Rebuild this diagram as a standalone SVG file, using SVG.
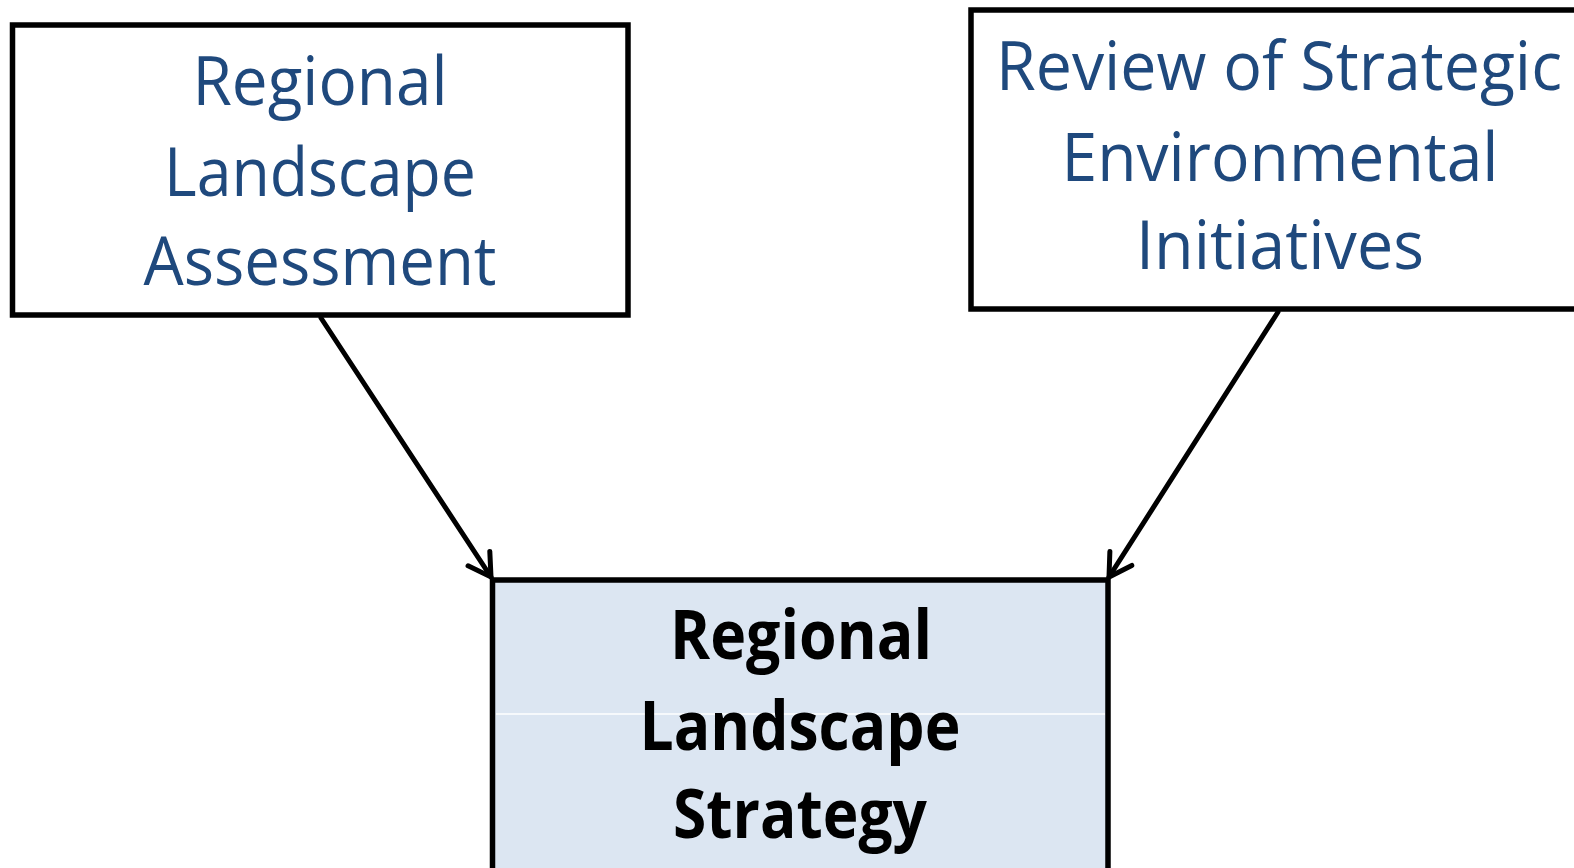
<svg xmlns="http://www.w3.org/2000/svg" width="1574" height="868" viewBox="0 0 1574 868">
<style>
.box{fill:#ffffff;stroke:#000;stroke-width:5.5}
.main{fill:#DCE6F2;stroke:#000;stroke-width:5.5}
.t{font-family:"Open Sans","Noto Sans","Liberation Sans",sans-serif;font-size:68px;fill:#1F497D;text-anchor:middle}
.b{font-family:"Open Sans","Noto Sans","Liberation Sans",sans-serif;font-size:68px;font-weight:bold;fill:#000;text-anchor:middle}
.c{stroke:#000;stroke-width:5;fill:none;stroke-linecap:round}
</style>
<defs>
<marker id="ah" markerUnits="userSpaceOnUse" markerWidth="40" markerHeight="40" refX="0" refY="0" viewBox="-30 -20 40 40" orient="auto" overflow="visible">
<path d="M-22,-13 L0,0 L-22,13" fill="none" stroke="#000" stroke-width="5" stroke-linecap="round" stroke-linejoin="miter"/>
</marker>
</defs>
<rect width="1574" height="868" fill="#fff"/>
<g id="node-rla">
<rect class="box" x="12.5" y="25" width="615.5" height="290"/>
<text class="t" x="320" y="105" textLength="255" lengthAdjust="spacingAndGlyphs">Regional</text>
<text class="t" x="320" y="196" textLength="312" lengthAdjust="spacingAndGlyphs">Landscape</text>
<text class="t" x="320" y="285" textLength="353" lengthAdjust="spacingAndGlyphs">Assessment</text>
</g>
<g id="node-review">
<rect class="box" x="971" y="10" width="620" height="299"/>
<text class="t" x="1279" y="90" textLength="566" lengthAdjust="spacingAndGlyphs">Review of Strategic</text>
<text class="t" x="1280" y="181" textLength="437" lengthAdjust="spacingAndGlyphs">Environmental</text>
<text class="t" x="1280" y="269" textLength="288" lengthAdjust="spacingAndGlyphs">Initiatives</text>
</g>
<g id="node-strategy">
<rect class="main" x="492.5" y="580" width="615.5" height="300"/>
<line x1="496" y1="714" x2="1105" y2="714" stroke="#fff" stroke-width="1.5"/>
<text class="b" x="801" y="659" textLength="262" lengthAdjust="spacingAndGlyphs">Regional</text>
<text class="b" x="800" y="750" textLength="321" lengthAdjust="spacingAndGlyphs">Landscape</text>
<text class="b" x="800" y="838" textLength="254" lengthAdjust="spacingAndGlyphs">Strategy</text>
</g>
<g id="connectors">
<line class="c" x1="321" y1="318" x2="491" y2="577" marker-end="url(#ah)"/>
<line class="c" x1="1278" y1="312" x2="1109" y2="577" marker-end="url(#ah)"/>
</g>
</svg>
